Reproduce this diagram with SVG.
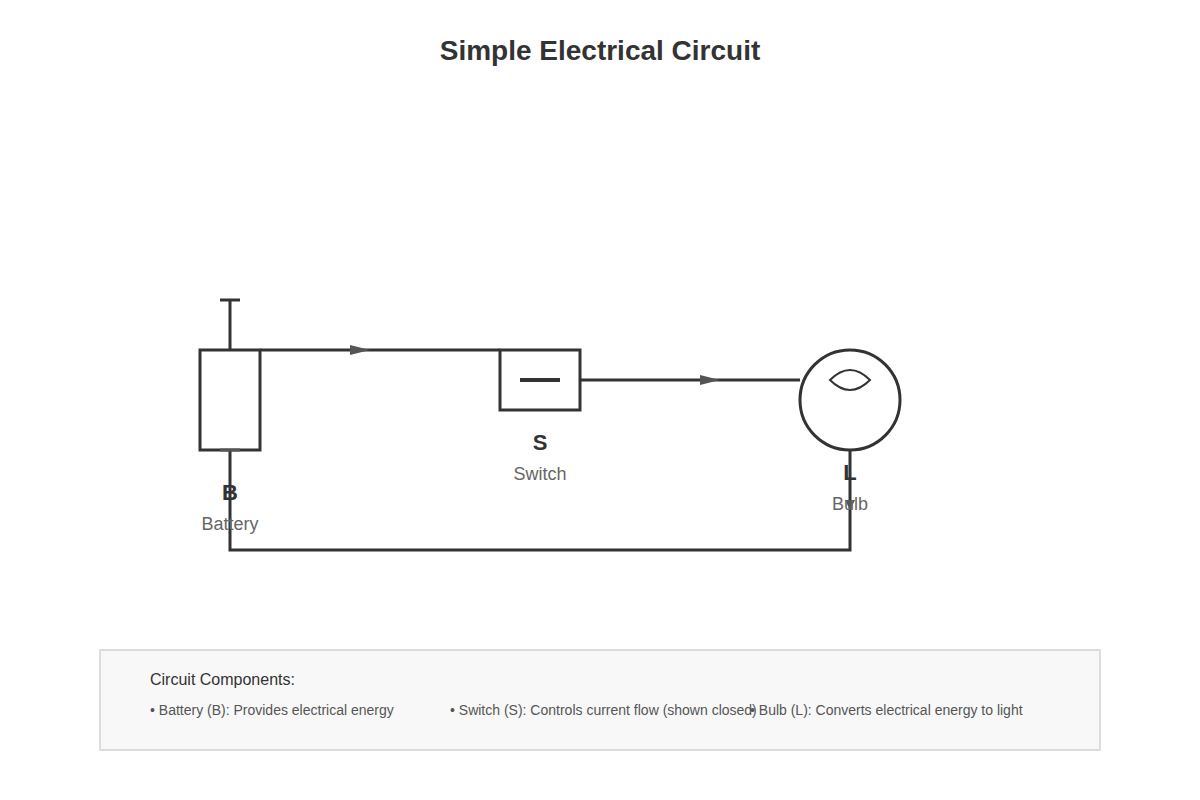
<svg xmlns="http://www.w3.org/2000/svg" width="1200" height="800" viewBox="0 0 1200 800">
<defs>
<marker id="arr" markerWidth="20" markerHeight="10" refX="20" refY="5" orient="auto" markerUnits="userSpaceOnUse"><path d="M0,0 L20,5 L0,10 Z" fill="#555"/></marker>
</defs>
<style>
.w{stroke:#333;stroke-width:3;fill:none}
.t{font-family:"Liberation Sans",Arial,sans-serif;text-anchor:middle}
.id{font-size:22px;font-weight:bold;fill:#333}
.lb{font-size:18px;fill:#666}
.lg{font-family:"Liberation Sans",Arial,sans-serif;font-size:14px;fill:#555}
</style>
<rect width="1200" height="800" fill="#fff"/>
<text class="t" x="600" y="60" font-size="28" font-weight="bold" fill="#333">Simple Electrical Circuit</text>
<g id="connectors">
<line class="w" x1="260" y1="350" x2="500" y2="350"/>
<line x1="350" y1="350" x2="370" y2="350" stroke="none" marker-end="url(#arr)"/>
<line class="w" x1="580" y1="380" x2="800" y2="380"/>
<line x1="700" y1="380" x2="720" y2="380" stroke="none" marker-end="url(#arr)"/>
<polyline class="w" points="230,450 230,550 850,550 850,450"/>
<path d="M845,500 L855,500 L850,510 Z" fill="#555"/>
</g>
<g id="battery">
<rect class="w" x="200" y="350" width="60" height="100"/>
<line class="w" x1="230" y1="300" x2="230" y2="350"/>
<line class="w" x1="220" y1="300" x2="240" y2="300"/>
<line x1="220" y1="450" x2="240" y2="450" stroke="#555" stroke-width="3"/>
<text class="t id" x="230" y="500">B</text>
<text class="t lb" x="230" y="530">Battery</text>
</g>
<g id="switch">
<rect class="w" x="500" y="350" width="80" height="60"/>
<line x1="520" y1="380" x2="560" y2="380" stroke="#333" stroke-width="4"/>
<text class="t id" x="540" y="450">S</text>
<text class="t lb" x="540" y="480">Switch</text>
</g>
<g id="bulb">
<circle class="w" cx="850" cy="400" r="50"/>
<path d="M830,380 Q850,360 870,380 Q850,400 830,380 Z" fill="none" stroke="#333" stroke-width="2"/>
<text class="t id" x="850" y="480">L</text>
<text class="t lb" x="850" y="510">Bulb</text>
</g>
<g id="legend">
<rect x="100" y="650" width="1000" height="100" fill="#f8f8f8" stroke="#ddd" stroke-width="2"/>
<text x="150" y="685" font-family="Liberation Sans,Arial,sans-serif" font-size="16" fill="#333">Circuit Components:</text>
<text class="lg" x="150" y="715">• Battery (B): Provides electrical energy</text>
<text class="lg" x="450" y="715">• Switch (S): Controls current flow (shown closed)</text>
<text class="lg" x="750" y="715">• Bulb (L): Converts electrical energy to light</text>
</g>
</svg>
